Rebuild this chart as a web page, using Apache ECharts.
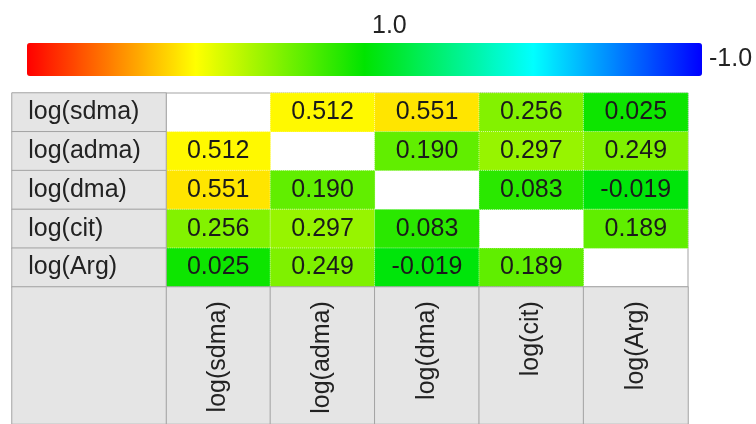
<!DOCTYPE html>
<html>
<head>
<meta charset="utf-8">
<script src="https://cdn.jsdelivr.net/npm/echarts@6/dist/echarts.min.js"></script>
<style>
  html, body { margin: 0; padding: 0; background: #fff; }
  #chart { width: 756px; height: 424px; }
</style>
</head>
<body>
<div id="chart"></div>
<script>
// variables in the correlation table
const names = ['log(sdma)', 'log(adma)', 'log(dma)', 'log(cit)', 'log(Arg)'];

// correlation rows (null on the diagonal, drawn as empty white cells)
const rowSdma = [null, 0.512, 0.551, 0.256, 0.025];
const rowAdma = [0.512, null, 0.190, 0.297, 0.249];
const rowDma = [0.551, 0.190, null, 0.083, -0.019];
const rowCit = [0.256, 0.297, 0.083, null, 0.189];
const rowArg = [0.025, 0.249, -0.019, 0.189, null];
const rows = [rowSdma, rowAdma, rowDma, rowCit, rowArg];

// colour scale ends
const scaleMin = -1.0;
const scaleMax = 1.0;

const FONT = 'Liberation Sans, Arial, sans-serif';
const HDR_BG = '#e5e5e5';
const LINE = '#a3a3a3';

const chart = echarts.init(document.getElementById('chart'));

const cellData = [];
rows.forEach((row, i) => {
  row.forEach((v, j) => {
    if (v !== null) cellData.push([j, i, v]);
  });
});

const rowHdrData = names.map((n, i) => [0, i, 0]);
const colHdrData = names.map((n, j) => [j, 0, 0]);

const hiddenCat = (data, extra) => Object.assign({
  type: 'category',
  data: data,
  show: false,
  axisLine: { show: false },
  axisTick: { show: false },
  splitLine: { show: false },
}, extra || {});

const option = {
  backgroundColor: '#fff',
  animation: false,
  textStyle: { fontFamily: FONT },
  grid: [
    // data cells
    { left: 166, top: 93, width: 522, height: 194, show: true, borderColor: LINE, borderWidth: 1 },
    // row headers
    { left: 12, top: 93, width: 154, height: 194 },
    // column headers
    { left: 166, top: 287, width: 522, height: 170 },
    // empty corner
    { left: 12, top: 287, width: 154, height: 170 },
  ],
  xAxis: [
    hiddenCat(names, { gridIndex: 0 }),
    hiddenCat([''], { gridIndex: 1 }),
    hiddenCat(names, { gridIndex: 2 }),
    hiddenCat([''], { gridIndex: 3 }),
  ],
  yAxis: [
    hiddenCat(names, { gridIndex: 0, inverse: true }),
    hiddenCat(names, { gridIndex: 1, inverse: true }),
    hiddenCat([''], { gridIndex: 2 }),
    hiddenCat([''], { gridIndex: 3 }),
  ],
  visualMap: {
    type: 'continuous',
    seriesIndex: 0,
    min: scaleMin,
    max: scaleMax,
    orient: 'horizontal',
    inverse: true,
    left: 27,
    top: 43,
    padding: 0,
    itemWidth: 33,
    itemHeight: 675,
    text: null,
    showLabel: false,
    calculable: false,
    hoverLink: false,
    inRange: {
      color: ['#0000ff', '#00ffff', '#00e400', '#ffff00', '#ff0000'],
    },
  },
  graphic: [
    {
      type: 'text',
      left: 372,
      top: 14,
      style: { text: scaleMax.toFixed(1), font: '25px ' + FONT, fill: '#222' },
    },
    {
      type: 'text',
      left: 709,
      top: 47,
      style: { text: scaleMin.toFixed(1), font: '25px ' + FONT, fill: '#222' },
    },
  ],
  series: [
    {
      type: 'heatmap',
      xAxisIndex: 0,
      yAxisIndex: 0,
      data: cellData,
      itemStyle: { borderColor: 'rgba(255,255,255,0.6)', borderWidth: 1, borderType: 'dotted' },
      label: {
        show: true,
        color: '#1a1a1a',
        fontSize: 25,
        fontFamily: FONT,
        formatter: (p) => p.data[2].toFixed(3),
      },
      emphasis: { disabled: true },
    },
    {
      type: 'heatmap',
      xAxisIndex: 1,
      yAxisIndex: 1,
      data: rowHdrData,
      itemStyle: { color: HDR_BG, borderColor: LINE, borderWidth: 1 },
      label: {
        show: true,
        position: 'insideLeft',
        distance: 17,
        color: '#222',
        fontSize: 25,
        fontFamily: FONT,
        formatter: (p) => names[p.data[1]],
      },
      emphasis: { disabled: true },
    },
    {
      type: 'heatmap',
      xAxisIndex: 2,
      yAxisIndex: 2,
      data: colHdrData,
      itemStyle: { color: HDR_BG, borderColor: LINE, borderWidth: 1 },
      label: {
        show: true,
        position: 'insideTop',
        distance: 15,
        rotate: 90,
        align: 'right',
        verticalAlign: 'middle',
        color: '#222',
        fontSize: 25,
        fontFamily: FONT,
        formatter: (p) => names[p.data[0]],
      },
      emphasis: { disabled: true },
    },
    {
      type: 'heatmap',
      xAxisIndex: 3,
      yAxisIndex: 3,
      data: [[0, 0, 0]],
      itemStyle: { color: HDR_BG, borderColor: LINE, borderWidth: 1 },
      label: { show: false },
      emphasis: { disabled: true },
    },
  ],
};

chart.setOption(option);
</script>
</body>
</html>
